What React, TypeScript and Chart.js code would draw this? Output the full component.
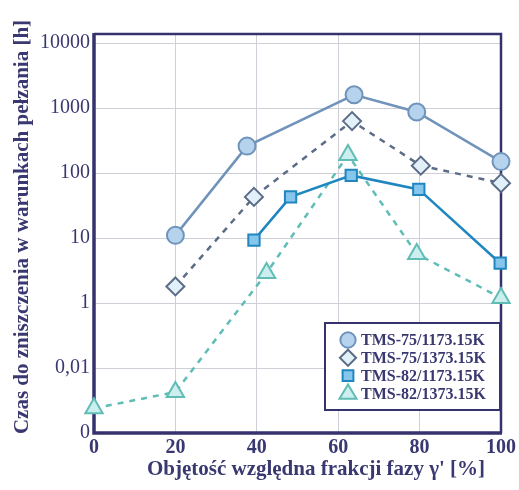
import React, { useEffect, useRef } from "react";
import { Chart, registerables } from "chart.js";

Chart.register(...registerables);

const xValues1 = [20, 37.6, 63.9, 79.3, 100];
const hours1 = [11, 260, 1600, 870, 150];
const xValues2 = [20, 39.3, 63.4, 80.3, 100];
const hours2 = [1.8, 43, 630, 130, 70];
const xValues3 = [39.3, 48.3, 63.2, 79.8, 99.8];
const hours3 = [9.3, 43, 92, 56, 4.1];
const xValues4 = [0, 20, 42.4, 62.4, 79.3, 100];
const hours4 = [0.0038, 0.0063, 2.9, 190, 5.7, 1.2];

const seriesLabels = [
  "TMS-75/1173.15K",
  "TMS-75/1373.15K",
  "TMS-82/1173.15K",
  "TMS-82/1373.15K",
];
const yTickLabels = ["0", "0,01", "1", "10", "100", "1000", "10000"];
const xTickValues = [0, 20, 40, 60, 80, 100];
const yTitle = "Czas do zniszczenia w warunkach pełzania [h]";
const xTitle = "Objętość względna frakcji fazy γ' [%]";

const NAVY = "#35326e";
const TEXT = "#3a3870";

// Axis position of an hour value on the original's broken scale
function toPos(v: number): number {
  if (v >= 1) return Math.log10(v) + 2;
  if (v >= 0.01) return 1 + (Math.log10(v) + 2) / 2;
  return v / 0.01;
}

function pts(xs: number[], hs: number[]) {
  return xs.map((x, i) => ({ x, y: toPos(hs[i]) }));
}

const styles = [
  { stroke: "#6f93ba", fill: "#b6d3ee", dash: [] as number[], point: "circle", r: 8.5 },
  { stroke: "#5b6d86", fill: "#e2f1f9", dash: [6, 6], point: "rectRot", r: 9 },
  { stroke: "#1f86c0", fill: "#86c6ec", dash: [] as number[], point: "rect", r: 8 },
  { stroke: "#5fbdb5", fill: "#cdeeee", dash: [6, 6], point: "triangle", r: 10 },
];

function drawMarker(ctx: CanvasRenderingContext2D, kind: string, x: number, y: number, r: number) {
  ctx.beginPath();
  if (kind === "circle") {
    ctx.arc(x, y, r, 0, Math.PI * 2);
  } else if (kind === "rectRot") {
    ctx.moveTo(x, y - r);
    ctx.lineTo(x + r, y);
    ctx.lineTo(x, y + r);
    ctx.lineTo(x - r, y);
    ctx.closePath();
  } else if (kind === "rect") {
    const s = r * 0.75;
    ctx.rect(x - s, y - s, 2 * s, 2 * s);
  } else {
    ctx.moveTo(x, y - r);
    ctx.lineTo(x + r * 0.95, y + r * 0.6);
    ctx.lineTo(x - r * 0.95, y + r * 0.6);
    ctx.closePath();
  }
  ctx.fill();
  ctx.stroke();
}

const framePlugin = {
  id: "frameAndText",
  beforeDatasetsDraw(chart: any) {
    const { ctx, chartArea } = chart;
    const { left, right, top, bottom } = chartArea;
    ctx.save();
    ctx.strokeStyle = NAVY;
    ctx.lineWidth = 2.5;
    ctx.beginPath();
    ctx.moveTo(left, top);
    ctx.lineTo(right, top);
    ctx.lineTo(right, bottom);
    ctx.stroke();
    ctx.lineWidth = 3.5;
    ctx.beginPath();
    ctx.moveTo(left, top - 1);
    ctx.lineTo(left, bottom);
    ctx.lineTo(right + 1, bottom);
    ctx.stroke();

    // titles
    ctx.fillStyle = TEXT;
    ctx.font = "bold 21px 'Liberation Serif', 'DejaVu Serif', serif";
    ctx.textAlign = "center";
    ctx.textBaseline = "middle";
    ctx.fillText(xTitle, 316, 470);
    ctx.save();
    ctx.translate(23, 227);
    ctx.rotate(-Math.PI / 2);
    ctx.fillText(yTitle, 0, 0);
    ctx.restore();
    ctx.restore();
  },
  afterDraw(chart: any) {
    const { ctx } = chart;
    ctx.save();
    // legend
    const lx = 325, ly = 323, lw = 175, lh = 87;
    ctx.fillStyle = "#ffffff";
    ctx.fillRect(lx, ly, lw, lh);
    ctx.strokeStyle = NAVY;
    ctx.lineWidth = 2;
    ctx.strokeRect(lx, ly, lw, lh);
    ctx.font = "bold 16px 'Liberation Serif', 'DejaVu Serif', serif";
    ctx.textAlign = "left";
    ctx.textBaseline = "middle";
    chart.data.datasets.forEach((ds: any, i: number) => {
      const st = styles[i];
      const cy = ly + 17 + i * 17.8;
      ctx.setLineDash([]);
      ctx.strokeStyle = st.stroke;
      ctx.fillStyle = st.fill;
      ctx.lineWidth = 2;
      drawMarker(ctx, st.point, 348, cy, st.r * 0.9);
      ctx.fillStyle = TEXT;
      ctx.fillText(ds.label, 361, cy + 1);
    });
    ctx.restore();
  },
};

export default function App() {
  const ref = useRef<HTMLCanvasElement | null>(null);
  useEffect(() => {
    if (!ref.current) return;
    const sets = [
      pts(xValues1, hours1),
      pts(xValues2, hours2),
      pts(xValues3, hours3),
      pts(xValues4, hours4),
    ];
    const chart = new Chart(ref.current, {
      type: "line",
      data: {
        datasets: sets.map((d, i) => ({
          label: seriesLabels[i],
          data: d,
          borderColor: styles[i].stroke,
          backgroundColor: styles[i].fill,
          pointBackgroundColor: styles[i].fill,
          pointBorderColor: styles[i].stroke,
          pointBorderWidth: 2,
          pointStyle: styles[i].point as any,
          pointRadius: styles[i].r,
          borderWidth: 2.5,
          borderDash: styles[i].dash,
          fill: false,
          tension: 0,
          clip: false as any,
        })),
      },
      options: {
        animation: false,
        responsive: false,
        layout: { padding: { top: 34, right: 15, left: 0, bottom: 0 } },
        plugins: { legend: { display: false }, tooltip: { enabled: false } },
        scales: {
          x: {
            type: "linear",
            min: 0,
            max: 100,
            afterFit: (s: any) => { s.height = 57; },
            afterBuildTicks: (s: any) => { s.ticks = xTickValues.map((v) => ({ value: v })); },
            ticks: {
              padding: 3,
              color: TEXT,
              font: { family: "'Liberation Serif', serif", size: 20, weight: "bold" },
            },
            grid: { color: "#cfcfd8", lineWidth: 1, drawTicks: false },
            border: { display: false },
          },
          y: {
            type: "linear",
            min: 0,
            max: 6.14,
            afterFit: (s: any) => { s.width = 94; },
            afterBuildTicks: (s: any) => { s.ticks = yTickLabels.map((_, i) => ({ value: i })); },
            ticks: {
              padding: 4,
              color: TEXT,
              font: { family: "'Liberation Serif', serif", size: 20 },
              callback: (v: any) => yTickLabels[Math.round(Number(v))] ?? "",
            },
            grid: { color: "#cfcfd8", lineWidth: 1, drawTicks: false },
            border: { display: false },
          },
        },
      },
      plugins: [framePlugin],
    });
    return () => chart.destroy();
  }, []);
  return (
    <div style={{ position: "fixed", left: 0, top: 0, width: 519, height: 490, background: "#fff" }}>
      <canvas ref={ref} width={519} height={490} style={{ width: 519, height: 490 }} />
    </div>
  );
}
